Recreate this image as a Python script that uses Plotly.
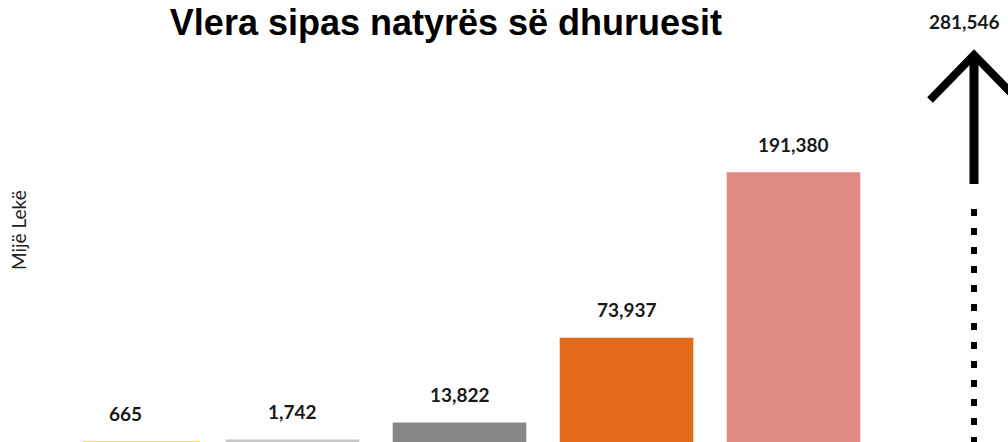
import plotly.graph_objects as go

# ---- data ----
CATEGORIES = ["Kategoria 1", "Kategoria 2", "Kategoria 3", "Kategoria 4", "Kategoria 5", "Kategoria 6"]
VALUES = [665, 1742, 13822, 73937, 191380, 281546]
VALUE_LABELS = ["665", "1,742", "13,822", "73,937", "191,380", "281,546"]
BAR_COLORS = ["#F7E21A", "#C7C7C7", "#878787", "#E36A19", "#E08A84"]
TITLE = "Vlera sipas natyrës së dhuruesit"
Y_TITLE = "Mijë Lekë"

W, H = 1008, 442
ML = 42
STEP = 167.0            # pixels per category
PX_PER_UNIT = 0.00141   # vertical scale

fig = go.Figure()

fig.add_trace(go.Bar(
    x=CATEGORIES[:5],
    y=VALUES[:5],
    marker=dict(color=BAR_COLORS, line=dict(width=0)),
    width=[0.70, 0.80, 0.80, 0.80, 0.80],
    offset=[-0.254, -0.40, -0.40, -0.40, -0.40],
    hoverinfo="skip",
    showlegend=False,
))

# invisible point to register the sixth category on the axis
fig.add_trace(go.Scatter(
    x=[CATEGORIES[5]], y=[VALUES[5]], mode="markers",
    marker=dict(opacity=0), hoverinfo="skip", showlegend=False,
))

label_font = dict(family="Lato", size=19, color="#1a1a1a")
for cat, val, lab in zip(CATEGORIES[:5], VALUES[:5], VALUE_LABELS[:5]):
    fig.add_annotation(
        x=cat, y=val, xref="x", yref="y", text="<b>" + lab + "</b>",
        showarrow=False, yanchor="middle", xanchor="center", yshift=28,
        font=label_font,
    )

# sixth value: arrow anchored at its value
cat6, val6 = CATEGORIES[5], VALUES[5]
fig.add_annotation(
    x=cat6, y=val6, xref="x", yref="y", text="<b>" + VALUE_LABELS[5] + "</b>",
    showarrow=False, yanchor="middle", xanchor="center", yshift=24, xshift=4,
    font=label_font,
)
common = dict(xref="x", yref="y", xsizemode="pixel", ysizemode="pixel",
              xanchor=cat6, yanchor=val6, layer="above")
fig.add_shape(type="path", path="M -30.5,-55 L 13.5,-10 L 57.5,-55",
              line=dict(color="black", width=8), **common)
fig.add_shape(type="line", x0=13.5, x1=13.5, y0=-10, y1=-139,
              line=dict(color="black", width=9), **common)
fig.add_shape(type="line", x0=13.5, x1=13.5, y0=-164, y1=-400,
              line=dict(color="black", width=6, dash="7px,12px"), **common)

# y-axis title
fig.add_annotation(
    x=(18 - ML) / (W - ML), y=1 - 230 / H, xref="paper", yref="paper",
    text=Y_TITLE, textangle=-90, showarrow=False,
    xanchor="center", yanchor="middle",
    font=dict(family="Lato", size=19, color="#222222"),
)

fig.update_layout(
    width=W, height=H,
    margin=dict(l=ML, r=0, t=0, b=0),
    paper_bgcolor="white", plot_bgcolor="white",
    title=dict(text="<b>" + TITLE + "</b>", x=446 / W, xanchor="center",
               y=1 - 22 / H, yanchor="middle", xref="container", yref="container",
               font=dict(family="Liberation Sans", size=36, color="black")),
    xaxis=dict(type="category", categoryorder="array", categoryarray=CATEGORIES,
               range=[-0.5, -0.5 + (W - ML) / STEP],
               showticklabels=False, showgrid=False, zeroline=False, showline=False,
               ticks="", fixedrange=True),
    yaxis=dict(range=[0, H / PX_PER_UNIT], visible=False, fixedrange=True),
    bargap=0.2,
)

fig.write_html("out.html", config={"displayModeBar": False, "staticPlot": True},
               post_script="document.body.style.margin='0';")
